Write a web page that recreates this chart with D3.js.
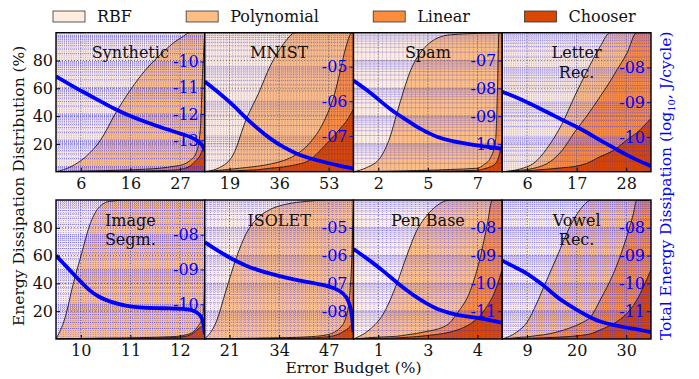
<!DOCTYPE html>
<html>
<head>
<meta charset="utf-8">
<script src="https://cdn.jsdelivr.net/npm/d3@7"></script>
<style>
  body { margin: 0; background: #fff; }
  text { font-family: "DejaVu Serif", serif; }
</style>
</head>
<body>
<div id="chart"></div>
<script>
// ---- data ----
const panelNames = [["Synthetic"], ["MNIST"], ["Spam"], ["Letter", "Rec."],
                    ["Image", "Segm."], ["ISOLET"], ["Pen Base"], ["Vowel", "Rec."]];

const budgetDomains = [[0.75, 32.25], [10.5, 61.5], [1.2, 8.4], [0.5, 33.5],
                       [9.5, 12.5], [14.5, 53.5], [0.8, 4.4], [4.15, 35.65]];
const budgetTicks = [[6, 16.5, 27], [19, 36, 53], [2.4, 4.8, 7.2], [6, 17, 28],
                     [10, 11, 12], [21, 34, 47], [1.4, 2.6, 3.8], [9.4, 19.9, 30.4]];
const budgetTickLabels = [["6", "16", "27"], ["19", "36", "53"], ["2", "5", "7"], ["6", "17", "28"],
                          ["10", "11", "12"], ["21", "34", "47"], ["1", "3", "4"], ["9", "20", "30"]];

const energyDomains = [[-14.2, -8.9], [-8.03, -4.02], [-11, -6], [-11, -7],
                       [-11, -7], [-9, -4], [-12, -7], [-12, -7]];
const energyTicks = [[-10, -11, -12, -13], [-5, -6, -7], [-7, -8, -9, -10], [-8, -9, -10],
                     [-8, -9, -10], [-5, -6, -7, -8], [-8, -9, -10, -11], [-8, -9, -10, -11]];
const energyTickLabels = [["-10", "-11", "-12", "-13"], ["-05", "-06", "-07"], ["-07", "-08", "-09", "-10"], ["-08", "-09", "-10"],
                          ["-08", "-09", "-10"], ["-05", "-06", "-07", "-08"], ["-08", "-09", "-10", "-11"], ["-08", "-09", "-10", "-11"]];

const budgets = [
  [0.75, 3.9, 7.05, 10.2, 13.35, 16.5, 19.65, 22.8, 25.95, 27.53, 29.1, 30.36, 31.31, 31.78, 32.25],
  [10.5, 15.6, 20.19, 24.78, 28.86, 32.94, 37.53, 41.61, 46.2, 51.3, 54.87, 56.91, 58.95, 60.99, 61.5],
  [1.2, 1.84, 2.49, 2.97, 3.3, 3.62, 3.94, 4.27, 4.76, 5.24, 5.89, 7.18, 7.51, 7.83, 8.08, 8.16, 8.24, 8.4],
  [0.5, 4.49, 7.43, 11.13, 13.7, 16.67, 19.24, 22.21, 24.43, 25.91, 28.12, 30.33, 33.5],
  [9.5, 9.68, 9.85, 10.02, 10.18, 10.35, 10.58, 10.92, 11.19, 11.86, 12.12, 12.26, 12.36, 12.43, 12.46, 12.49, 12.5],
  [14.5, 17.46, 20.08, 22.73, 25.38, 28.0, 31.5, 35.91, 41.18, 46.48, 49.99, 51.75, 52.6, 53.07, 53.31, 53.5],
  [0.8, 1.2, 1.52, 1.85, 2.09, 2.33, 2.58, 2.82, 3.14, 3.31, 3.63, 3.87, 4.04, 4.16, 4.4],
  [4.15, 7.24, 9.38, 11.49, 12.88, 15.71, 18.51, 20.62, 23.11, 24.88, 27.68, 29.79, 31.9, 32.63, 35.65]
];

// share of energy per unit (%)
const chooserShare = [
  [0, .1, .2, .3, .4, .5, .6, .8, 1.2, 2, 4, 8, 12, 16, 20],
  [0, .3, .6, 1, 1.5, 2.5, 3.5, 5, 8, 18, 26, 31, 36, 43, 45],
  [0, .1, .1, .2, .2, .2, .3, .3, .4, .5, .6, 1, 2, 3.6, 6, 8, 11, 23],
  [0, .5, 1, 2, 2.8, 3.8, 6, 10.8, 14, 17, 22.8, 28, 38.4],
  [0, .1, .1, .2, .2, .3, .3, .4, .5, 1, 2, 4, 7, 9, 10, 11, 12],
  [0, .1, .1, .2, .2, .3, .3, .5, .7, 1.5, 4, 7, 9, 11, 12, 12],
  [0, .3, .5, .8, 1.2, 1.7, 2.5, 3.3, 5, 6.5, 11, 17, 24, 30, 50],
  [0, .3, .5, .7, .9, 1.2, 1.8, 2.5, 4, 6.5, 11, 16, 24, 28, 50]
];
const linearShare = [
  [0, .2, .3, .4, .6, .8, 1.2, 1.7, 2.8, 3, 4, 5, 18, 54, 80],
  [0, .7, 1.4, 2, 2.5, 3, 4.5, 7, 12, 18, 29, 41, 54, 57, 55],
  [0, .1, .2, .2, .3, .4, .4, .5, .6, .7, 1, 1.5, 3, 6.4, 17, 46, 89, 77],
  [0, .5, 1.4, 5.2, 12.2, 25.2, 34, 43.2, 51, 56, 62.2, 72, 61.6],
  [0, .1, .2, .2, .3, .3, .4, .4, .5, .7, 1, 1, 2, 4, 6, 24, 88],
  [0, .1, .2, .2, .3, .3, .5, .5, .8, 1.5, 4, 11, 26, 48, 71, 88],
  [0, .7, 1, 1.2, 1.8, 2.3, 3, 3.7, 7, 12, 24, 42, 59, 70, 50],
  [0, .7, 1, 1.8, 2.1, 3.8, 6.2, 8.5, 13, 21.5, 36, 50, 66, 72, 50]
];
const polyShare = [
  [0, 3.3, 10.3, 22.1, 41, 57.5, 71.2, 81.5, 89.5, 92, 92, 87, 70, 30, 0],
  [0, 2, 10, 35, 52, 70.5, 84, 88, 80, 64, 45, 28, 10, 0, 0],
  [0, 2.8, 9.7, 24.6, 41.5, 57.4, 71.3, 81.2, 90, 94.8, 96.9, 97, 94.7, 89.8, 77, 46, 0, 0],
  [0, 1, 3.6, 12.8, 19, 26, 32, 36, 35, 27, 15, 0, 0],
  [0, 14.8, 39.7, 61.6, 81.5, 93.4, 98.3, 99.2, 99, 98.3, 97, 95, 91, 87, 84, 65, 0],
  [0, 11.8, 34.7, 57.6, 75.5, 85.4, 92.2, 96, 97.5, 97, 92, 82, 65, 41, 17, 0],
  [0, 6, 16.5, 38, 57, 74, 83.5, 89, 88, 81.5, 65, 41, 17, 0, 0],
  [0, 4, 10.5, 23.5, 34, 54, 73, 82, 83, 72, 53, 34, 10, 0, 0]
];
const rbfShare = [
  [100, 96.4, 89.2, 77.2, 58, 41.2, 27, 16, 6.5, 3, 0, 0, 0, 0, 0],
  [100, 97, 88, 62, 44, 24, 8, 0, 0, 0, 0, 0, 0, 0, 0],
  [100, 97, 90, 75, 58, 42, 28, 18, 9, 4, 1.5, .5, .3, .2, 0, 0, 0, 0],
  [100, 98, 94, 80, 66, 45, 28, 10, 0, 0, 0, 0, 0],
  [100, 85, 60, 38, 18, 6, 1, 0, 0, 0, 0, 0, 0, 0, 0, 0, 0],
  [100, 88, 65, 42, 24, 14, 7, 3, 1, 0, 0, 0, 0, 0, 0, 0],
  [100, 93, 82, 60, 40, 22, 11, 4, 0, 0, 0, 0, 0, 0, 0],
  [100, 95, 88, 74, 63, 41, 19, 7, 0, 0, 0, 0, 0, 0, 0]
];
// total energy, log10 J/cycle
const energyLog = [
  [-10.57, -10.9, -11.21, -11.52, -11.83, -12.08, -12.30, -12.5, -12.68, -12.77, -12.86, -12.97, -13.1, -13.2, -13.4],
  [-5.43, -5.77, -6.1, -6.5, -6.8, -7.08, -7.33, -7.5, -7.64, -7.75, -7.82, -7.86, -7.9, -7.93, -7.94],
  [-7.72, -8.05, -8.45, -8.75, -8.92, -9.07, -9.22, -9.4, -9.58, -9.76, -9.9, -10.06, -10.09, -10.12, -10.14, -10.15, -10.16, -10.18],
  [-8.70, -8.9, -9.09, -9.33, -9.5, -9.69, -9.86, -10.1, -10.25, -10.36, -10.52, -10.66, -10.84],
  [-8.6, -8.87, -9.13, -9.38, -9.61, -9.78, -9.93, -10.05, -10.1, -10.12, -10.14, -10.17, -10.25, -10.35, -10.48, -10.65, -10.87],
  [-5.52, -5.78, -6.0, -6.2, -6.37, -6.5, -6.65, -6.8, -6.95, -7.07, -7.25, -7.48, -7.8, -8.1, -8.5, -8.75],
  [-8.76, -9.18, -9.55, -9.97, -10.25, -10.51, -10.73, -10.93, -11.07, -11.14, -11.2, -11.26, -11.3, -11.34, -11.42],
  [-9.18, -9.45, -9.63, -9.9, -10.06, -10.5, -10.8, -11.02, -11.25, -11.38, -11.5, -11.57, -11.63, -11.65, -11.75]
];

const shareTicks = [20, 40, 60, 80];
const layerKeys = ["chooser", "linear", "poly", "rbf"];
const layerColors = {chooser: "#d94701", linear: "#fd8d3c", poly: "#fdbe85", rbf: "#feedde"};
const legendKeys = ["rbf", "poly", "linear", "chooser"];
const legendNames = ["RBF", "Polynomial", "Linear", "Chooser"];

// ---- layout ----
const width = 699, height = 379;
const margin = {left: 56, right: 48, top: 32.7};
const panelW = (width - margin.left - margin.right) / 4;
const panelH = 139;
const rowGap = 28.3;

const svg = d3.select("#chart").append("svg")
  .attr("width", width)
  .attr("height", height);

const defs = svg.append("defs");

panelNames.forEach((name, i) => {
  const col = i % 4, row = Math.floor(i / 4);
  const x0 = margin.left + col * panelW, x1 = x0 + panelW;
  const y0 = margin.top + row * (panelH + rowGap), y1 = y0 + panelH;

  const x = d3.scaleLinear().domain(budgetDomains[i]).range([x0, x1]);
  const y = d3.scaleLinear().domain([0, 100]).range([y1, y0]);
  const [elo, ehi] = energyDomains[i];
  const yE = d3.scaleLog().domain([Math.pow(10, elo), Math.pow(10, ehi)]).range([y1, y0]);

  defs.append("clipPath").attr("id", "clip" + i)
    .append("rect").attr("x", x0).attr("y", y0).attr("width", panelW).attr("height", panelH);

  const g = svg.append("g").attr("clip-path", `url(#clip${i})`);

  const rows = budgets[i].map((b, j) => ({
    b: b,
    chooser: chooserShare[i][j],
    linear: linearShare[i][j],
    poly: polyShare[i][j],
    rbf: rbfShare[i][j]
  }));
  const series = d3.stack().keys(layerKeys)(rows);

  const area = d3.area()
    .x(d => x(d.data.b))
    .y0(d => y(d[0]))
    .y1(d => y(d[1]))
    .curve(d3.curveMonotoneX);

  g.selectAll("path.layer")
    .data(series)
    .join("path")
    .attr("class", "layer")
    .attr("d", area)
    .attr("fill", d => layerColors[d.key]);

  // minor grid (blue dotted)
  g.selectAll("line.vminor")
    .data(x.ticks(50))
    .join("line")
    .attr("x1", d => x(d)).attr("x2", d => x(d))
    .attr("y1", y0).attr("y2", y1)
    .attr("stroke", "#3030ff").attr("stroke-width", 0.8)
    .attr("stroke-dasharray", "1,1").attr("opacity", 0.5);

  g.selectAll("line.hminor")
    .data(yE.ticks())
    .join("line")
    .attr("x1", x0).attr("x2", x1)
    .attr("y1", d => yE(d)).attr("y2", d => yE(d))
    .attr("stroke", "#3030ff").attr("stroke-width", 0.9)
    .attr("stroke-dasharray", "1,1").attr("opacity", 0.6);

  // major grid (grey dotted)
  g.selectAll("line.hmajor")
    .data(shareTicks)
    .join("line")
    .attr("x1", x0).attr("x2", x1)
    .attr("y1", d => y(d)).attr("y2", d => y(d))
    .attr("stroke", "#555").attr("stroke-width", 0.8)
    .attr("stroke-dasharray", "1,2");

  g.selectAll("line.vmajor")
    .data(budgetTicks[i])
    .join("line")
    .attr("x1", d => x(d)).attr("x2", d => x(d))
    .attr("y1", y0).attr("y2", y1)
    .attr("stroke", "#555").attr("stroke-width", 0.8)
    .attr("stroke-dasharray", "1,2");

  // layer boundaries
  const edge = d3.line()
    .x(d => x(d.data.b))
    .y(d => y(d[1]))
    .curve(d3.curveMonotoneX);

  g.selectAll("path.edge")
    .data(series.slice(0, 3))
    .join("path")
    .attr("d", edge)
    .attr("fill", "none")
    .attr("stroke", "#000")
    .attr("stroke-width", 0.8);

  // total energy
  const energyLine = d3.line()
    .x((d, j) => x(budgets[i][j]))
    .y(d => yE(Math.pow(10, d)))
    .curve(d3.curveBasis);

  g.append("path")
    .datum(energyLog[i])
    .attr("d", energyLine)
    .attr("fill", "none")
    .attr("stroke", "#0000ff")
    .attr("stroke-width", 3.8)
    .attr("stroke-linejoin", "round");

  // panel title
  const title = svg.append("text")
    .attr("x", (x0 + x1) / 2)
    .attr("y", y0 + 25.5)
    .attr("text-anchor", "middle")
    .attr("font-size", 16)
    .attr("fill", "#111");
  title.selectAll("tspan")
    .data(name)
    .join("tspan")
    .attr("x", (x0 + x1) / 2)
    .attr("dy", (d, k) => k === 0 ? 0 : 19.5)
    .text(d => d);

  // right (energy) axis, labels inside the panel
  svg.append("g")
    .attr("transform", `translate(${x1},0)`)
    .call(d3.axisLeft(yE)
      .tickValues(energyTicks[i].map(v => Math.pow(10, v)))
      .tickFormat((d, k) => energyTickLabels[i][k])
      .tickSize(4).tickPadding(2))
    .call(a => a.select(".domain").remove())
    .call(a => a.selectAll("line").attr("stroke", "#0000ff"))
    .call(a => a.selectAll("text")
      .attr("fill", "#0000ff")
      .attr("font-family", "DejaVu Serif")
      .attr("font-size", 16));

  // bottom axis
  svg.append("g")
    .attr("transform", `translate(0,${y1})`)
    .call(d3.axisBottom(x)
      .tickValues(budgetTicks[i])
      .tickFormat((d, k) => budgetTickLabels[i][k])
      .tickSize(-4).tickPadding(6))
    .call(a => a.select(".domain").remove())
    .call(a => a.selectAll("text")
      .attr("font-family", "DejaVu Serif")
      .attr("font-size", 16)
      .attr("fill", "#111"));

  if (col === 0) {
    svg.append("g")
      .attr("transform", `translate(${x0},0)`)
      .call(d3.axisLeft(y)
        .tickValues(shareTicks)
        .tickSize(-4).tickPadding(3))
      .call(a => a.select(".domain").remove())
      .call(a => a.selectAll("text")
        .attr("font-family", "DejaVu Serif")
        .attr("font-size", 16)
        .attr("fill", "#111"));
  }

  // frame
  svg.append("rect")
    .attr("x", x0).attr("y", y0)
    .attr("width", panelW).attr("height", panelH)
    .attr("fill", "none")
    .attr("stroke", "#000")
    .attr("stroke-width", 1.4);
});

// ---- legend ----
const legend = svg.append("g");
const items = legend.selectAll("g.item")
  .data(legendKeys)
  .join("g")
  .attr("class", "item");
items.append("rect")
  .attr("width", 32).attr("height", 11)
  .attr("y", 11)
  .attr("fill", d => layerColors[d])
  .attr("stroke", "#333").attr("stroke-width", 0.8);
items.append("text")
  .attr("x", 44).attr("y", 22)
  .attr("font-size", 16)
  .attr("fill", "#111")
  .text((d, k) => legendNames[k]);

const itemWidths = [];
items.each(function () { itemWidths.push(this.getBBox().width); });
const legendLeft = 53, legendRight = 636;
const gap = (legendRight - legendLeft - d3.sum(itemWidths)) / (itemWidths.length - 1);
let cursor = legendLeft;
items.attr("transform", (d, k) => {
  const t = `translate(${cursor},0)`;
  cursor += itemWidths[k] + gap;
  return t;
});

// ---- axis titles ----
svg.append("text")
  .attr("transform", `translate(24,${margin.top + panelH + rowGap / 2}) rotate(-90)`)
  .attr("text-anchor", "middle")
  .attr("font-size", 15.5)
  .attr("fill", "#111")
  .text("Energy Dissipation Distribution (%)");

const rightTitle = svg.append("text")
  .attr("transform", `translate(671,${margin.top + panelH + rowGap / 2}) rotate(-90)`)
  .attr("text-anchor", "middle")
  .attr("font-size", 15.5)
  .attr("fill", "#0000ff");
rightTitle.append("tspan").text("Total Energy Dissipation (log");
rightTitle.append("tspan").attr("font-size", 10).attr("dy", 4).text("10");
rightTitle.append("tspan").attr("dy", -4).text(", J/cycle)");

svg.append("text")
  .attr("x", margin.left + 2 * panelW)
  .attr("y", 373)
  .attr("text-anchor", "middle")
  .attr("font-size", 15.5)
  .attr("fill", "#111")
  .text("Error Budget (%)");
</script>
</body>
</html>
